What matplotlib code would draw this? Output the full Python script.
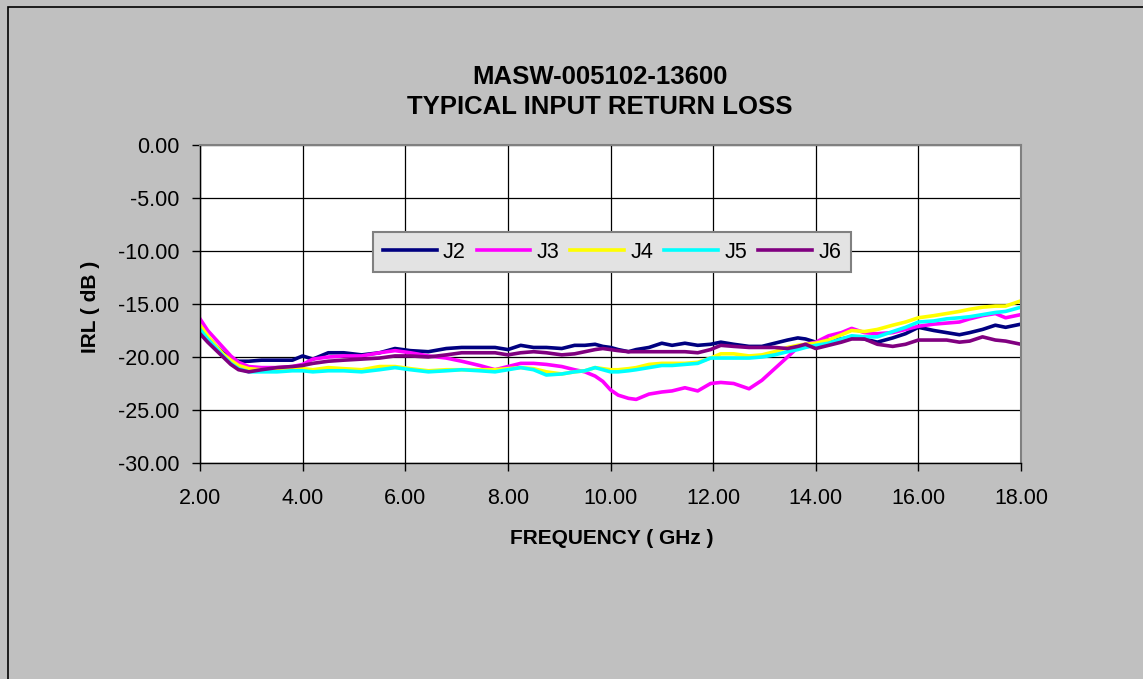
import matplotlib
matplotlib.use("Agg")
import matplotlib.pyplot as plt
from matplotlib.patches import Rectangle

plt.rcParams['font.family'] = ['Liberation Sans', 'DejaVu Sans']
plt.rcParams['axes.unicode_minus'] = False

# frequency points (GHz) shared by all traces
freq = [2.0, 2.15, 2.3, 2.45, 2.6, 2.75, 2.95, 3.2, 3.5, 3.8, 4.0, 4.2, 4.5, 4.8,
        5.15, 5.5, 5.8, 6.1, 6.45, 6.8, 7.1, 7.45, 7.75, 8.0, 8.25, 8.5, 8.75,
        9.05, 9.3, 9.5, 9.7, 9.85, 10.0, 10.15, 10.35, 10.5, 10.75, 11.0, 11.2,
        11.45, 11.7, 11.95, 12.15, 12.4, 12.7, 12.95, 13.2, 13.45, 13.65, 13.8,
        14.0, 14.25, 14.5, 14.7, 14.95, 15.2, 15.5, 15.75, 16.0, 16.3, 16.55,
        16.8, 17.0, 17.25, 17.5, 17.7, 18.0]

j2 = [-17.2, -18.1, -18.9, -19.6, -20.1, -20.4, -20.4, -20.3, -20.3, -20.3, -19.9,
      -20.2, -19.6, -19.6, -19.8, -19.6, -19.2, -19.4, -19.5, -19.2, -19.1, -19.1,
      -19.1, -19.3, -18.9, -19.1, -19.1, -19.2, -18.9, -18.9, -18.8, -19.0, -19.1,
      -19.3, -19.5, -19.3, -19.1, -18.7, -18.9, -18.7, -18.9, -18.8, -18.6, -18.8,
      -19.0, -19.0, -18.7, -18.4, -18.2, -18.3, -18.6, -18.4, -18.3, -18.1, -18.3,
      -18.6, -18.2, -17.8, -17.2, -17.5, -17.7, -17.9, -17.7, -17.4, -17.0, -17.2,
      -16.9]
j3 = [-16.4, -17.5, -18.3, -19.1, -19.9, -20.5, -20.9, -21.0, -21.0, -20.9, -20.7,
      -20.2, -20.0, -19.9, -19.9, -19.6, -19.4, -19.6, -19.9, -20.1, -20.4, -20.8,
      -21.2, -20.9, -20.6, -20.6, -20.7, -20.9, -21.2, -21.4, -21.8, -22.3, -23.1,
      -23.6, -23.9, -24.0, -23.5, -23.3, -23.2, -22.9, -23.2, -22.5, -22.4, -22.5,
      -23.0, -22.2, -21.1, -20.0, -19.1, -18.8, -18.6, -18.0, -17.7, -17.3, -17.7,
      -17.8, -17.7, -17.4, -17.1, -16.9, -16.8, -16.7, -16.4, -16.1, -15.9, -16.3,
      -16.0]
j4 = [-17.0, -18.0, -18.9, -19.7, -20.3, -20.8, -21.1, -21.2, -21.2, -21.1, -21.1,
      -21.2, -21.0, -21.1, -21.2, -20.9, -20.9, -21.1, -21.3, -21.2, -21.2, -21.2,
      -21.2, -21.1, -21.0, -21.1, -21.4, -21.6, -21.4, -21.3, -21.0, -21.1, -21.2,
      -21.2, -21.1, -21.0, -20.7, -20.6, -20.6, -20.6, -20.5, -20.1, -19.7, -19.7,
      -19.9, -19.8, -19.5, -19.1, -18.9, -18.8, -18.7, -18.4, -17.9, -17.5, -17.6,
      -17.4, -17.0, -16.7, -16.3, -16.1, -15.9, -15.7, -15.5, -15.3, -15.2, -15.2,
      -14.7]
j5 = [-17.4, -18.3, -19.1, -19.9, -20.6, -21.1, -21.4, -21.4, -21.4, -21.3, -21.3,
      -21.4, -21.3, -21.3, -21.4, -21.2, -21.0, -21.2, -21.4, -21.3, -21.2, -21.3,
      -21.4, -21.2, -21.0, -21.2, -21.7, -21.6, -21.4, -21.3, -21.0, -21.2, -21.4,
      -21.4, -21.3, -21.2, -21.0, -20.8, -20.8, -20.7, -20.6, -20.1, -20.1, -20.1,
      -20.1, -20.0, -19.8, -19.5, -19.3, -19.1, -18.9, -18.7, -18.3, -18.0, -18.1,
      -18.1, -17.6, -17.2, -16.7, -16.6, -16.4, -16.3, -16.2, -16.0, -15.8, -15.7,
      -15.3]
j6 = [-17.8, -18.6, -19.3, -20.0, -20.7, -21.2, -21.4, -21.2, -21.0, -20.9, -20.8,
      -20.6, -20.4, -20.3, -20.2, -20.1, -19.9, -19.9, -20.0, -19.8, -19.6, -19.6,
      -19.6, -19.8, -19.6, -19.5, -19.6, -19.8, -19.7, -19.5, -19.3, -19.2, -19.3,
      -19.4, -19.5, -19.5, -19.5, -19.5, -19.5, -19.5, -19.6, -19.3, -18.9, -19.0,
      -19.1, -19.1, -19.1, -19.2, -19.0, -18.8, -19.2, -18.9, -18.6, -18.3, -18.3,
      -18.8, -19.0, -18.8, -18.4, -18.4, -18.4, -18.6, -18.5, -18.1, -18.4, -18.5,
      -18.8]

labels = ['J2', 'J3', 'J4', 'J5', 'J6']
colors = ['#000080', '#FF00FF', '#FFFF00', '#00FFFF', '#800080']

fig = plt.figure(figsize=(11.43, 6.79), dpi=100, facecolor='#C0C0C0')
fig.patches.append(Rectangle((7.5 / 1143, -0.01), 1.0, 1 - 7.5 / 679 + 0.01,
                             transform=fig.transFigure, fill=False,
                             edgecolor='black', linewidth=1.2))

ax = fig.add_axes([200 / 1143, 1 - 463 / 679, 821 / 1143, 318 / 679])
ax.set_facecolor('white')

for series, lab, c in zip([j2, j3, j4, j5, j6], labels, colors):
    ax.plot(freq, series, color=c, linewidth=2.6, label=lab)

ax.set_xlim(2, 18)
ax.set_ylim(-30, 0)
ax.set_xticks(range(2, 19, 2))
ax.set_yticks(range(-30, 1, 5))
ax.xaxis.set_major_formatter('{x:.2f}')
ax.yaxis.set_major_formatter('{x:.2f}')
ax.tick_params(direction='out', length=6, width=1, colors='black',
               labelsize=15.5)
ax.tick_params(axis='x', pad=12)
ax.tick_params(axis='y', pad=9)
ax.grid(True, color='black', linewidth=0.9)
ax.set_axisbelow(True)

for s in ['top', 'right']:
    ax.spines[s].set_color('#808080')
    ax.spines[s].set_linewidth(1.5)
for s in ['left', 'bottom']:
    ax.spines[s].set_color('black')
    ax.spines[s].set_linewidth(1.0)

fig.text(600 / 1143, 1 - 92 / 679, 'MASW-005102-13600\nTYPICAL INPUT RETURN LOSS',
         ha='center', va='center', fontsize=18.5, fontweight='bold',
         linespacing=1.35)
fig.text(612 / 1143, 1 - 539 / 679, 'FREQUENCY ( GHz )', ha='center', va='center',
         fontsize=15, fontweight='bold')
fig.text(90 / 1143, 1 - 307 / 679, 'IRL ( dB )', ha='center', va='center',
         rotation=90, fontsize=15, fontweight='bold')

leg = ax.legend(loc='center', bbox_to_anchor=(612 / 1143, 1 - 252 / 679),
                bbox_transform=fig.transFigure, ncol=5, fontsize=15.5,
                frameon=True, fancybox=False, framealpha=1,
                handlelength=2.5, handletextpad=0.3, columnspacing=0.5,
                borderpad=0.45)
leg.get_frame().set_facecolor('#E3E3E3')
leg.get_frame().set_edgecolor('#808080')
leg.get_frame().set_linewidth(1.5)

fig.savefig('out.png', dpi=100, facecolor=fig.get_facecolor())
